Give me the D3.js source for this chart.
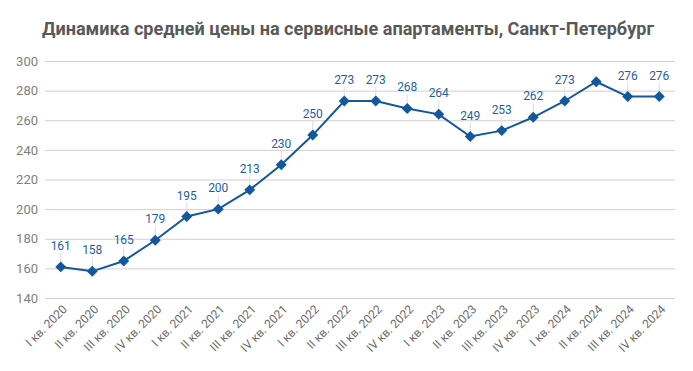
<!DOCTYPE html>
<html>
<head>
<meta charset="utf-8">
<script src="https://cdn.jsdelivr.net/npm/d3@7"></script>
<style>
  body { margin: 0; background: #fff; }
  text { font-family: Roboto, sans-serif; }
</style>
</head>
<body>
<script>
// quarters and average price values
var quarters = ["I кв. 2020", "II кв. 2020", "III кв. 2020", "IV кв. 2020",
    "I кв. 2021", "II кв. 2021", "III кв. 2021", "IV кв. 2021",
    "I кв. 2022", "II кв. 2022", "III кв. 2022", "IV кв. 2022",
    "I кв. 2023", "II кв. 2023", "III кв. 2023", "IV кв. 2023",
    "I кв. 2024", "II кв. 2024", "III кв. 2024", "IV кв. 2024"];
var prices = [161, 158, 165, 179, 195, 200, 213, 230, 250, 273, 273, 268, 264, 249, 253, 262, 273, 286, 276, 276];
// which points carry a value label (II кв. 2024 has none)
var showLabel = [1,1,1,1,1,1,1,1,1,1,1,1,1,1,1,1,1,0,1,1];
var yTicks = [140, 160, 180, 200, 220, 240, 260, 280, 300];

var W = 693, H = 371;
var margin = {left: 45, right: 18, top: 61, bottom: 73};

var svg = d3.select("body").append("svg")
    .attr("width", W)
    .attr("height", H);

var x = d3.scaleBand()
    .domain(quarters)
    .range([margin.left, W - margin.right]);

var y = d3.scaleLinear()
    .domain([140, 300])
    .range([H - margin.bottom, margin.top]);

// title
svg.append("text")
    .attr("x", 348)
    .attr("y", 35)
    .attr("text-anchor", "middle")
    .attr("font-size", 18)
    .attr("font-weight", "bold")
    .attr("fill", "#595959")
    .attr("textLength", 612)
    .attr("lengthAdjust", "spacingAndGlyphs")
    .text("Динамика средней цены на сервисные апартаменты, Санкт-Петербург");

// gridlines + y labels
var yAxis = svg.append("g")
    .attr("transform", "translate(" + margin.left + ",0)")
    .call(d3.axisLeft(y).tickValues(yTicks).tickSize(-(W - margin.left - margin.right)).tickPadding(7));
yAxis.select(".domain").remove();
yAxis.selectAll(".tick line").attr("stroke", "#d0d0d0");
yAxis.selectAll(".tick text")
    .attr("fill", "#808080")
    .attr("font-size", 13)
    .attr("font-family", "Roboto, sans-serif");

// x labels rotated
var xAxis = svg.append("g")
    .attr("transform", "translate(0," + (H - margin.bottom) + ")")
    .call(d3.axisBottom(x).tickSize(0).tickPadding(0));
xAxis.select(".domain").remove();
xAxis.selectAll(".tick text")
    .attr("fill", "#6b6b6b")
    .attr("font-size", 12)
    .attr("font-family", "Roboto, sans-serif")
    .attr("text-anchor", "end")
    .attr("dy", 0)
    .attr("transform", "translate(7,12) rotate(-45)");

var cx = function (d, i) { return x(quarters[i]) + x.bandwidth() / 2; };

// leader lines
svg.append("g").selectAll("line")
    .data(prices)
    .enter().append("line")
    .attr("display", function (d, i) { return showLabel[i] ? null : "none"; })
    .attr("x1", cx).attr("x2", cx)
    .attr("y1", function (d) { return y(d) - 14; })
    .attr("y2", function (d) { return y(d); })
    .attr("stroke", "#dcdcdc")
    .attr("stroke-width", 1);

// line
var line = d3.line()
    .x(cx)
    .y(function (d) { return y(d); });

svg.append("path")
    .datum(prices)
    .attr("d", line)
    .attr("fill", "none")
    .attr("stroke", "#13589c")
    .attr("stroke-width", 2);

// diamond markers
svg.append("g").selectAll("path")
    .data(prices)
    .enter().append("path")
    .attr("d", d3.symbol().type(d3.symbolSquare).size(60))
    .attr("transform", function (d, i) { return "translate(" + cx(d, i) + "," + y(d) + ") rotate(45)"; })
    .attr("fill", "#13589c");

// value labels
svg.append("g").selectAll("text")
    .data(prices)
    .enter().append("text")
    .attr("display", function (d, i) { return showLabel[i] ? null : "none"; })
    .attr("x", cx)
    .attr("y", function (d) { return y(d) - 17; })
    .attr("text-anchor", "middle")
    .attr("font-size", 12)
    .attr("fill", "#1f5f9e")
    .text(function (d) { return d; });
</script>
</body>
</html>
